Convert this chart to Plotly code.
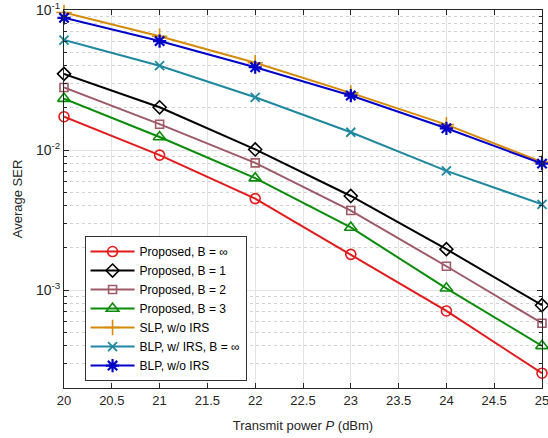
import plotly.graph_objects as go

power_dbm = [20, 21, 22, 23, 24, 25]

ser_prop_inf = [0.0173, 0.0092, 0.0045, 0.0018, 0.00071, 0.000255]
ser_prop_b1 = [0.035, 0.0202, 0.0101, 0.0047, 0.00196, 0.00078]
ser_prop_b2 = [0.028, 0.0153, 0.0081, 0.0037, 0.00148, 0.00058]
ser_prop_b3 = [0.0233, 0.0124, 0.0063, 0.0028, 0.00103, 0.00040]
ser_slp_noirs = [0.096, 0.065, 0.042, 0.0256, 0.0152, 0.0082]
ser_blp_irs_inf = [0.061, 0.040, 0.0238, 0.0134, 0.0071, 0.0041]
ser_blp_noirs = [0.088, 0.060, 0.039, 0.0245, 0.0143, 0.0080]

series_names = [
    "Proposed, B = ∞",
    "Proposed, B = 1",
    "Proposed, B = 2",
    "Proposed, B = 3",
    "SLP, w/o IRS",
    "BLP, w/ IRS, B = ∞",
    "BLP, w/o IRS",
]
series_values = [ser_prop_inf, ser_prop_b1, ser_prop_b2, ser_prop_b3,
                 ser_slp_noirs, ser_blp_irs_inf, ser_blp_noirs]
colors = ["#E31A1C", "#000000", "#9E5A66", "#0A8C0A", "#D68A0A", "#1E88A0", "#0000C8"]
symbols = ["circle-open", "diamond-open", "square-open", "triangle-up-open",
           "cross-thin-open", "x-thin-open", "asterisk-open"]
sizes = [10, 10, 8, 11, 11, 9, 11]
mline = [1.6, 1.6, 1.6, 1.6, 1.6, 1.8, 2.2]

y_major = [1e-3, 1e-2, 1e-1]
y_major_text = ["10<sup>-3</sup>", "10<sup>-2</sup>", "10<sup>-1</sup>"]
y_minor = [m * 10 ** e for e in (-4, -3, -2) for m in range(2, 10) if m * 10 ** e >= 2e-4]
x_ticks = [20, 20.5, 21, 21.5, 22, 22.5, 23, 23.5, 24, 24.5, 25]

fig = go.Figure()
for name, vals, c, s, sz, mw in zip(series_names, series_values, colors, symbols, sizes, mline):
    fig.add_trace(go.Scatter(
        x=power_dbm, y=vals, name=name, mode="lines+markers",
        line=dict(color=c, width=2),
        marker=dict(symbol=s, size=sz, color=c, line=dict(color=c, width=mw)),
        cliponaxis=False,
    ))

axis_font = dict(family="Liberation Sans, Arial, sans-serif", size=13, color="#262626")
fig.update_layout(
    width=548, height=438,
    margin=dict(l=64, r=6, t=10, b=50, autoexpand=False),
    paper_bgcolor="white", plot_bgcolor="white",
    font=dict(family="Liberation Sans, Arial, sans-serif", size=13, color="#262626"),
    showlegend=True,
    legend=dict(
        x=0.043, y=0.402, xanchor="left", yanchor="top",
        bgcolor="white", bordercolor="#333333", borderwidth=1,
        font=dict(size=12, color="#000000"),
        tracegroupgap=0, itemwidth=44,
    ),
    xaxis=dict(
        range=[20, 25], tickvals=x_ticks, ticktext=[f"{v:g}" for v in x_ticks],
        showgrid=True, gridcolor="#E3E3E3", gridwidth=1,
        showline=True, linecolor="#262626", linewidth=1, mirror="ticks",
        ticks="inside", ticklen=5, tickcolor="#262626",
        title=dict(text="Transmit power <i>P</i> (dBm)", font=axis_font, standoff=14),
        tickfont=axis_font, zeroline=False, automargin=False,
        ticklabeloverflow="allow",
    ),
    yaxis=dict(
        type="log", range=[-3.69897, -1],
        tickvals=y_major, ticktext=y_major_text,
        showgrid=True, gridcolor="#E3E3E3", gridwidth=1,
        showline=True, linecolor="#262626", linewidth=1, mirror="ticks",
        ticks="inside", ticklen=5, tickcolor="#262626",
        minor=dict(tickvals=y_minor, ticks="inside", ticklen=3, tickcolor="#262626",
                   showgrid=True, gridcolor="#D2D2D2", griddash="dot", gridwidth=1),
        title=dict(text="Average SER", font=axis_font, standoff=10),
        tickfont=dict(family="Liberation Sans, Arial, sans-serif", size=14, color="#262626"),
        zeroline=False, automargin=False, ticklabeloverflow="allow",
    ),
)

fig.write_html("out.html", config={"displayModeBar": False},
               post_script="document.body.style.margin='0';document.body.style.padding='0';")
